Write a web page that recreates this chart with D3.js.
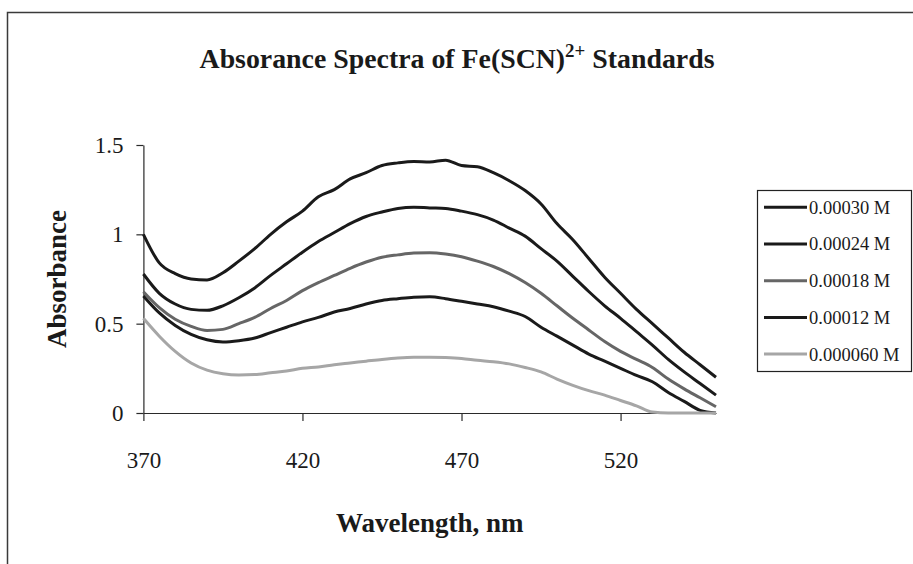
<!DOCTYPE html>
<html>
<head>
<meta charset="utf-8">
<script src="https://cdn.jsdelivr.net/npm/d3@7/dist/d3.min.js"></script>
<style>
  body { margin: 0; background: #fff; }
  text { font-family: "Liberation Serif", "DejaVu Serif", serif; fill: #1a1a1a; }
</style>
</head>
<body>
<svg id="chart" width="913" height="564"></svg>
<script>
// Wavelength grid (nm) and absorbance of each Fe(SCN)2+ standard
const wavelengths = [370,375,380,385,390,395,400,405,410,415,420,425,430,435,440,445,450,455,460,
                     465,470,475,480,485,490,495,500,505,510,515,520,525,530,535,540,545,550];
const abs030 = [1.00,0.84,0.78,0.75,0.745,0.785,0.85,0.92,1.00,1.07,1.13,1.21,1.25,1.31,1.345,1.385,1.40,1.408,1.405,
                1.415,1.385,1.378,1.345,1.30,1.245,1.17,1.06,0.97,0.865,0.76,0.67,0.58,0.50,0.42,0.34,0.27,0.20];
const abs024 = [0.778,0.67,0.61,0.58,0.575,0.60,0.645,0.70,0.77,0.835,0.90,0.96,1.01,1.06,1.10,1.125,1.145,1.152,1.148,
                1.145,1.13,1.11,1.08,1.035,0.99,0.92,0.85,0.765,0.68,0.60,0.53,0.455,0.38,0.30,0.23,0.165,0.10];
const abs018 = [0.679,0.59,0.525,0.485,0.462,0.468,0.50,0.535,0.585,0.63,0.685,0.73,0.77,0.81,0.845,0.872,0.885,0.895,0.897,
                0.89,0.875,0.85,0.82,0.78,0.73,0.67,0.60,0.53,0.465,0.40,0.345,0.30,0.255,0.19,0.135,0.085,0.035];
const abs012 = [0.655,0.56,0.49,0.44,0.41,0.398,0.405,0.42,0.45,0.48,0.51,0.535,0.565,0.585,0.61,0.63,0.64,0.648,0.65,
                0.64,0.625,0.61,0.595,0.57,0.54,0.48,0.43,0.38,0.33,0.29,0.25,0.21,0.175,0.115,0.065,0.015,0];
const abs006 = [0.53,0.43,0.345,0.28,0.24,0.22,0.213,0.215,0.225,0.235,0.25,0.258,0.27,0.28,0.29,0.30,0.308,0.312,0.312,
                0.31,0.305,0.295,0.287,0.275,0.255,0.23,0.19,0.155,0.125,0.10,0.07,0.04,0.005,0,0,0,0];

const seriesLabels = ["0.00030 M", "0.00024 M", "0.00018 M", "0.00012 M", "0.000060 M"];
const seriesValues = [abs030, abs024, abs018, abs012, abs006];
const seriesColors = ["#1a1a1a", "#1a1a1a", "#666666", "#1a1a1a", "#a6a6a6"];

const xTickValues = [370, 420, 470, 520];
const yTickValues = [0, 0.5, 1, 1.5];

const titleMain = "Absorance Spectra of Fe(SCN)";
const titleSup = "2+";
const titleTail = " Standards";
const xTitle = "Wavelength, nm";
const yTitle = "Absorbance";

const svg = d3.select("#chart");

// outer chart frame
svg.append("path")
  .attr("d", "M7.5,564V12.5H913")
  .attr("fill", "none")
  .attr("stroke", "#3a3a3a")
  .attr("stroke-width", 1.5);

const plot = { left: 143.4, right: 716, top: 145, bottom: 413 };

const x = d3.scaleLinear().domain([370, 550]).range([plot.left, plot.right]);
const y = d3.scaleLinear().domain([0, 1.5]).range([plot.bottom, plot.top]);

// axes
const yAxis = svg.append("g")
  .attr("transform", `translate(${plot.left},0)`)
  .call(d3.axisLeft(y).tickValues(yTickValues).tickSizeInner(7).tickSizeOuter(0).tickPadding(13)
        .tickFormat(d => String(d)));
const xAxis = svg.append("g")
  .attr("transform", `translate(0,${plot.bottom})`)
  .call(d3.axisBottom(x).tickValues(xTickValues).tickSizeInner(8).tickSizeOuter(0).tickPadding(31));

[xAxis, yAxis].forEach(g => {
  g.selectAll("path.domain").attr("stroke", "#2a2a2a").attr("stroke-width", 1.2);
  g.selectAll(".tick line").attr("stroke", "#2a2a2a").attr("stroke-width", 1.2);
  g.selectAll(".tick text")
    .attr("font-family", "'Liberation Serif', serif")
    .attr("font-size", 23)
    .attr("fill", "#1a1a1a");
});

// spectra
const line = d3.line()
  .x((d, i) => x(wavelengths[i]))
  .y(d => y(d))
  .curve(d3.curveMonotoneX);

svg.append("g").selectAll("path")
  .data(seriesValues)
  .join("path")
  .attr("d", d => line(d))
  .attr("fill", "none")
  .attr("stroke", (d, i) => seriesColors[i])
  .attr("stroke-width", 3)
  .attr("stroke-linejoin", "round");

// title with superscript charge
const title = svg.append("text")
  .attr("x", 457)
  .attr("y", 68)
  .attr("text-anchor", "middle")
  .attr("font-weight", "bold")
  .attr("font-size", 26);
title.append("tspan").text(titleMain);
title.append("tspan").text(titleSup).attr("font-size", "0.68em").attr("dy", -11);
title.append("tspan").text(titleTail).attr("dy", 11);
const titleWidth = title.node().getComputedTextLength();
title.attr("font-size", 26 * 515 / titleWidth);

// axis titles
svg.append("text")
  .attr("x", (plot.left + plot.right) / 2)
  .attr("y", 523)
  .attr("dy", "0.35em")
  .attr("text-anchor", "middle")
  .attr("font-weight", "bold")
  .attr("font-size", 27)
  .text(xTitle);

svg.append("text")
  .attr("transform", `translate(57,${(plot.top + plot.bottom) / 2}) rotate(-90)`)
  .attr("dy", "0.35em")
  .attr("text-anchor", "middle")
  .attr("font-weight", "bold")
  .attr("font-size", 27)
  .text(yTitle);

// legend
const legend = { left: 757, top: 190, width: 154, height: 181, step: 36.7, first: 207.3 };
svg.append("rect")
  .attr("x", legend.left + 0.5)
  .attr("y", legend.top + 0.5)
  .attr("width", legend.width)
  .attr("height", legend.height)
  .attr("fill", "#fff")
  .attr("stroke", "#222")
  .attr("stroke-width", 1.2);

const items = svg.append("g").selectAll("g")
  .data(seriesLabels)
  .join("g")
  .attr("transform", (d, i) => `translate(${legend.left},${legend.first + i * legend.step})`);
items.append("line")
  .attr("x1", 7).attr("x2", 50)
  .attr("stroke", (d, i) => seriesColors[i])
  .attr("stroke-width", 3);
items.append("text")
  .attr("x", 52)
  .attr("dy", "0.35em")
  .attr("font-size", 18.5)
  .text(d => d);
</script>
</body>
</html>
